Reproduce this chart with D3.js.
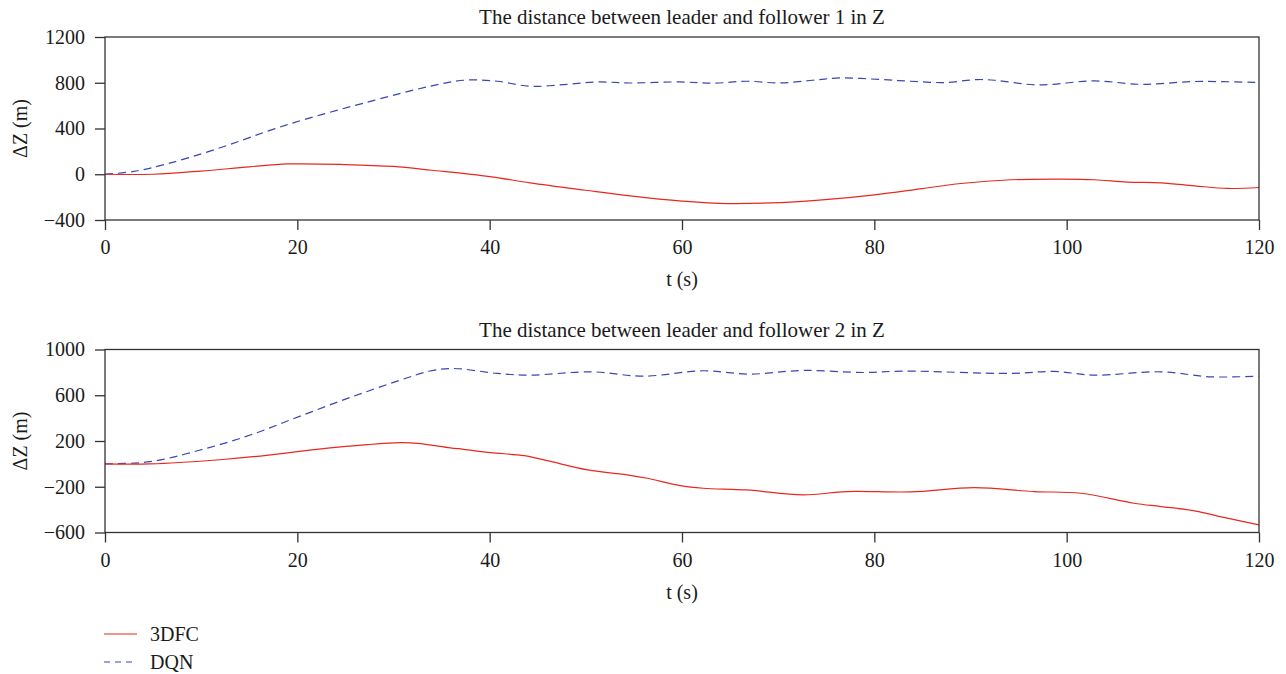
<!DOCTYPE html>
<html>
<head>
<meta charset="utf-8">
<script src="https://cdn.jsdelivr.net/npm/d3@7"></script>
<style>
  body { margin: 0; background: #fff; }
  text { font-family: "Liberation Serif", "DejaVu Serif", serif; fill: #1a1a1a; }
</style>
</head>
<body>
<div id="chart"></div>
<script>
// Follower 1 (top panel): [t, dZ]
const f1_3dfc = [
  [0, 0], [5, 0], [10, 28], [15, 65], [19, 90], [25, 85], [30, 68], [34, 35],
  [40, -20], [44.2, -75], [50, -140], [54.6, -189], [60, -235], [64, -255],
  [70.2, -248], [75.5, -218], [80, -180], [85, -125], [89, -81], [94.2, -48],
  [99.4, -42], [102.9, -48], [106.3, -69], [109.8, -75], [113.3, -101],
  [116.7, -124], [120, -116]
];
const f1_dqn = [
  [0, 0], [3, 25], [6.4, 90], [11.6, 221], [18.9, 432], [27.3, 631], [33.8, 769],
  [37.3, 822], [40.8, 813], [44.2, 769], [47.7, 784], [51.1, 807], [54.6, 798],
  [59.8, 807], [63.3, 796], [66.7, 813], [70.2, 798], [73.6, 822], [76.4, 842],
  [80.7, 828], [83.8, 813], [87.3, 802], [90.7, 828], [92.5, 822], [97, 781],
  [102.9, 816], [107.4, 787], [109.8, 793], [113.3, 811], [120, 802]
];
// Follower 2 (bottom panel)
const f2_3dfc = [
  [0, 0], [4.7, 0], [11.6, 34], [16.8, 75], [22, 127], [27.3, 168], [30.7, 185],
  [32.5, 180], [35.9, 140], [37.3, 127], [40.1, 98], [43.6, 72], [46, 28],
  [50.2, -53], [54.6, -100], [56.4, -126], [59.8, -190], [62.2, -213],
  [66.7, -228], [72.6, -271], [77.1, -242], [83.8, -245], [90.4, -208],
  [96.6, -242], [101.5, -257], [107, -344], [109.8, -373], [113.3, -411],
  [116.7, -475], [120, -533]
];
const f2_dqn = [
  [0, 0], [4.7, 19], [9.9, 121], [15.1, 252], [20.3, 418], [25.5, 581],
  [30.7, 732], [33.8, 812], [36.2, 834], [40.8, 791], [44.2, 776], [50.5, 805],
  [56, 767], [62.2, 814], [67, 785], [72.6, 817], [78.9, 799], [83.1, 811],
  [94.2, 791], [98.7, 808], [102.9, 776], [109.8, 805], [115, 761], [120, 767]
];

const xTicks = [0, 20, 40, 60, 80, 100, 120];
const panels = [
  { title: "The distance between leader and follower 1 in Z", yDomain: [-400, 1200],
    yTicks: [-400, 0, 400, 800, 1200], red: f1_3dfc, blue: f1_dqn, top: 37 },
  { title: "The distance between leader and follower 2 in Z", yDomain: [-600, 1000],
    yTicks: [-600, -200, 200, 600, 1000], red: f2_3dfc, blue: f2_dqn, top: 349.5 }
];

const width = 1286, height = 674;
const left = 105, right = 1259, plotH = 183;
const redColor = "#e8281f", blueColor = "#3a44b3";
const fontSize = "20px";

const svg = d3.select("#chart").append("svg")
  .attr("width", width).attr("height", height);

const x = d3.scaleLinear().domain([0, 120]).range([left, right]);

panels.forEach((p) => {
  const y = d3.scaleLinear().domain(p.yDomain).range([p.top + plotH, p.top]);
  const g = svg.append("g");

  const line = d3.line()
    .x((d) => x(d[0]))
    .y((d) => y(d[1]))
    .curve(d3.curveCatmullRom.alpha(0.5));

  g.append("path").datum(p.blue)
    .attr("d", line).attr("fill", "none")
    .attr("stroke", blueColor).attr("stroke-width", 1.2)
    .attr("stroke-dasharray", "8,5");

  g.append("path").datum(p.red)
    .attr("d", line).attr("fill", "none")
    .attr("stroke", redColor).attr("stroke-width", 1.2);

  // frame
  g.append("rect")
    .attr("x", left).attr("y", p.top)
    .attr("width", right - left).attr("height", plotH)
    .attr("fill", "none").attr("stroke", "#333").attr("stroke-width", 1.3);

  const xAxis = g.append("g")
    .attr("transform", `translate(0,${p.top + plotH})`)
    .call(d3.axisBottom(x).tickValues(xTicks).tickSize(10).tickPadding(10));
  const yAxis = g.append("g")
    .attr("transform", `translate(${left},0)`)
    .call(d3.axisLeft(y).tickValues(p.yTicks).tickSize(10).tickPadding(10)
      .tickFormat((d) => (d < 0 ? "\u2212" + Math.abs(d) : d)));

  [xAxis, yAxis].forEach((a) => {
    a.select(".domain").remove();
    a.selectAll(".tick line").attr("stroke", "#333").attr("stroke-width", 1.3);
    a.selectAll(".tick text")
      .style("font-family", '"Liberation Serif", serif')
      .style("font-size", fontSize).attr("fill", "#1a1a1a");
  });

  g.append("text")
    .attr("x", (left + right) / 2).attr("y", p.top - 13)
    .attr("text-anchor", "middle").style("font-size", "21px")
    .text(p.title);

  g.append("text")
    .attr("x", (left + right) / 2).attr("y", p.top + plotH + 66)
    .attr("text-anchor", "middle").style("font-size", fontSize)
    .text("t (s)");

  g.append("text")
    .attr("transform", `translate(27,${p.top + plotH / 2}) rotate(-90)`)
    .attr("text-anchor", "middle").style("font-size", fontSize)
    .text("\u0394Z (m)");
});

// legend
const legend = [
  { name: "3DFC", color: redColor, dash: null, y: 634 },
  { name: "DQN", color: blueColor, dash: "6,5", y: 662 }
];
legend.forEach((l) => {
  svg.append("line")
    .attr("x1", 104).attr("x2", 137).attr("y1", l.y).attr("y2", l.y)
    .attr("stroke", l.color).attr("stroke-width", 1.2)
    .attr("stroke-dasharray", l.dash);
  svg.append("text")
    .attr("x", 150).attr("y", l.y + 7)
    .style("font-size", fontSize).text(l.name);
});
</script>
</body>
</html>
